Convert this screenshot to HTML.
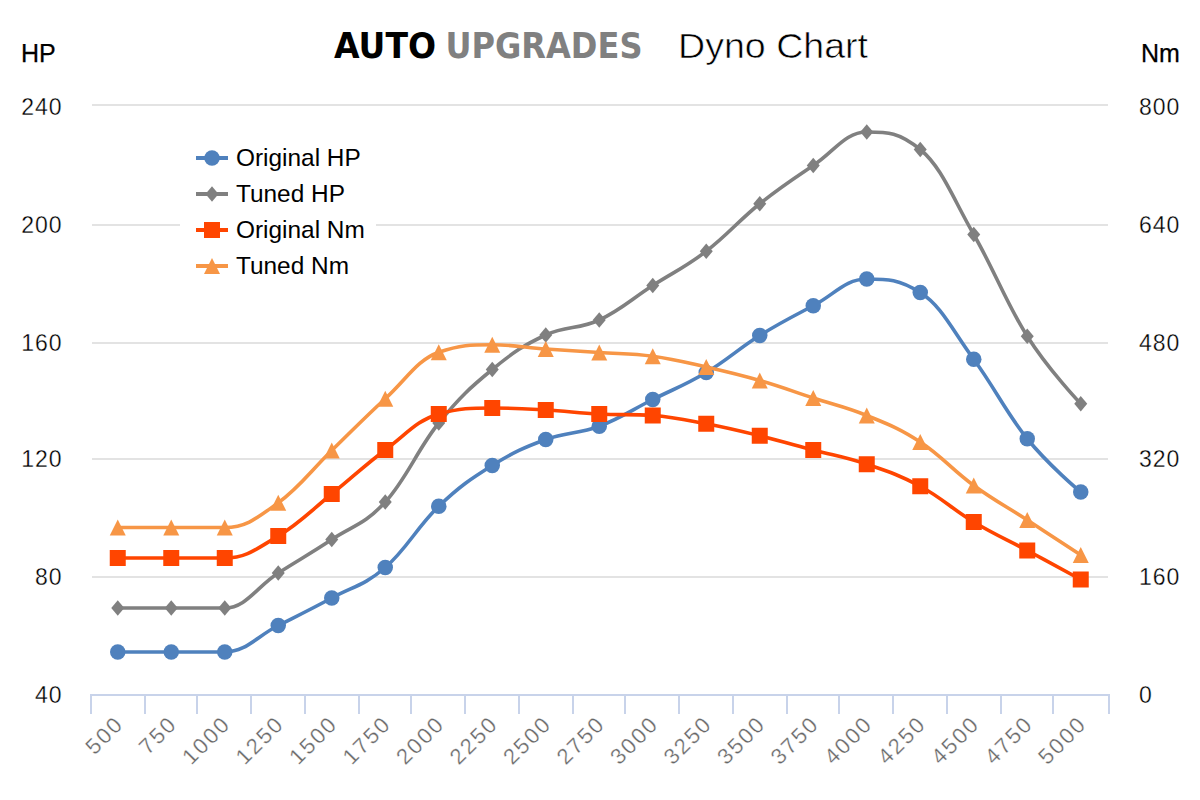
<!DOCTYPE html><html><head><meta charset="utf-8"><title>Dyno Chart</title><style>
html,body{margin:0;padding:0;background:#fff;}body{width:1200px;height:800px;overflow:hidden;}svg{display:block;}
.lab{font-family:"Liberation Sans",Arial,sans-serif;font-size:23px;fill:#000;letter-spacing:1px;stroke:#fff;stroke-width:0.3px;paint-order:fill;}
.xl{font-family:"Liberation Sans",Arial,sans-serif;font-size:22px;fill:#666;letter-spacing:2.2px;stroke:#fff;stroke-width:0.3px;paint-order:fill;}
.ax{font-family:"Liberation Sans",Arial,sans-serif;font-size:25px;fill:#000;stroke:#000;stroke-width:0.25px;}
.leg{font-family:"Liberation Sans",Arial,sans-serif;font-size:24.4px;fill:#000;}
</style></head><body>
<svg width="1200" height="800" viewBox="0 0 1200 800">
<rect width="1200" height="800" fill="#fff"/>
<text x="334" y="57.7" font-family="'DejaVu Sans',sans-serif" font-weight="bold" font-size="35.5" fill="#000" textLength="102" lengthAdjust="spacingAndGlyphs">AUTO</text>
<text x="445.5" y="57.7" font-family="'DejaVu Sans',sans-serif" font-weight="bold" font-size="35.5" fill="#808080" textLength="197" lengthAdjust="spacingAndGlyphs">UPGRADES</text>
<text x="678" y="57.7" font-family="'Liberation Sans',sans-serif" font-size="35" fill="#000" stroke="#fff" stroke-width="0.6" paint-order="fill" textLength="190" lengthAdjust="spacingAndGlyphs">Dyno Chart</text>
<text class="ax" x="21" y="61.5">HP</text>
<text class="ax" x="1141" y="61.5">Nm</text>
<rect x="92" y="104.0" width="1016" height="2" fill="#e3e3e3"/>
<rect x="92" y="224.0" width="1016" height="2" fill="#e3e3e3"/>
<rect x="92" y="342.0" width="1016" height="2" fill="#e3e3e3"/>
<rect x="92" y="458.0" width="1016" height="2" fill="#e3e3e3"/>
<rect x="92" y="576.0" width="1016" height="2" fill="#e3e3e3"/>
<rect x="90" y="694" width="1020" height="2" fill="#c8d3ea"/>
<rect x="90.00" y="694" width="2" height="20" fill="#c8d3ea"/>
<rect x="144.00" y="694" width="2" height="20" fill="#c8d3ea"/>
<rect x="196.00" y="694" width="2" height="20" fill="#c8d3ea"/>
<rect x="250.00" y="694" width="2" height="20" fill="#c8d3ea"/>
<rect x="304.00" y="694" width="2" height="20" fill="#c8d3ea"/>
<rect x="358.00" y="694" width="2" height="20" fill="#c8d3ea"/>
<rect x="410.00" y="694" width="2" height="20" fill="#c8d3ea"/>
<rect x="464.00" y="694" width="2" height="20" fill="#c8d3ea"/>
<rect x="518.00" y="694" width="2" height="20" fill="#c8d3ea"/>
<rect x="572.00" y="694" width="2" height="20" fill="#c8d3ea"/>
<rect x="624.00" y="694" width="2" height="20" fill="#c8d3ea"/>
<rect x="678.00" y="694" width="2" height="20" fill="#c8d3ea"/>
<rect x="732.00" y="694" width="2" height="20" fill="#c8d3ea"/>
<rect x="786.00" y="694" width="2" height="20" fill="#c8d3ea"/>
<rect x="838.00" y="694" width="2" height="20" fill="#c8d3ea"/>
<rect x="892.00" y="694" width="2" height="20" fill="#c8d3ea"/>
<rect x="946.00" y="694" width="2" height="20" fill="#c8d3ea"/>
<rect x="1000.00" y="694" width="2" height="20" fill="#c8d3ea"/>
<rect x="1052.00" y="694" width="2" height="20" fill="#c8d3ea"/>
<rect x="1108.00" y="694" width="2" height="20" fill="#c8d3ea"/>
<text class="lab" x="62.5" y="114.6" text-anchor="end">240</text>
<text class="lab" x="62.5" y="232.6" text-anchor="end">200</text>
<text class="lab" x="62.5" y="350.6" text-anchor="end">160</text>
<text class="lab" x="62.5" y="466.6" text-anchor="end">120</text>
<text class="lab" x="62.5" y="584.6" text-anchor="end">80</text>
<text class="lab" x="62.5" y="702.6" text-anchor="end">40</text>
<text class="lab" x="1139" y="114.6">800</text>
<text class="lab" x="1139" y="232.6">640</text>
<text class="lab" x="1139" y="350.6">480</text>
<text class="lab" x="1139" y="466.6">320</text>
<text class="lab" x="1139" y="584.6">160</text>
<text class="lab" x="1139" y="702.6">0</text>
<text class="xl" transform="translate(125.05,725.00) rotate(-45)" text-anchor="end" x="0" y="0">500</text>
<text class="xl" transform="translate(178.55,725.00) rotate(-45)" text-anchor="end" x="0" y="0">750</text>
<text class="xl" transform="translate(232.05,725.00) rotate(-45)" text-anchor="end" x="0" y="0">1000</text>
<text class="xl" transform="translate(285.55,725.00) rotate(-45)" text-anchor="end" x="0" y="0">1250</text>
<text class="xl" transform="translate(339.05,725.00) rotate(-45)" text-anchor="end" x="0" y="0">1500</text>
<text class="xl" transform="translate(392.55,725.00) rotate(-45)" text-anchor="end" x="0" y="0">1750</text>
<text class="xl" transform="translate(446.05,725.00) rotate(-45)" text-anchor="end" x="0" y="0">2000</text>
<text class="xl" transform="translate(499.55,725.00) rotate(-45)" text-anchor="end" x="0" y="0">2250</text>
<text class="xl" transform="translate(553.05,725.00) rotate(-45)" text-anchor="end" x="0" y="0">2500</text>
<text class="xl" transform="translate(606.55,725.00) rotate(-45)" text-anchor="end" x="0" y="0">2750</text>
<text class="xl" transform="translate(660.05,725.00) rotate(-45)" text-anchor="end" x="0" y="0">3000</text>
<text class="xl" transform="translate(713.55,725.00) rotate(-45)" text-anchor="end" x="0" y="0">3250</text>
<text class="xl" transform="translate(767.05,725.00) rotate(-45)" text-anchor="end" x="0" y="0">3500</text>
<text class="xl" transform="translate(820.55,725.00) rotate(-45)" text-anchor="end" x="0" y="0">3750</text>
<text class="xl" transform="translate(874.05,725.00) rotate(-45)" text-anchor="end" x="0" y="0">4000</text>
<text class="xl" transform="translate(927.55,725.00) rotate(-45)" text-anchor="end" x="0" y="0">4250</text>
<text class="xl" transform="translate(981.05,725.00) rotate(-45)" text-anchor="end" x="0" y="0">4500</text>
<text class="xl" transform="translate(1034.55,725.00) rotate(-45)" text-anchor="end" x="0" y="0">4750</text>
<text class="xl" transform="translate(1088.05,725.00) rotate(-45)" text-anchor="end" x="0" y="0">5000</text>
<path d="M117.75,652.00 C117.75,652.00 149.85,652.00 171.25,652.00 C192.65,652.00 203.35,652.00 224.75,652.00 C246.15,652.00 256.85,636.30 278.25,625.50 C299.65,614.70 310.35,609.60 331.75,598.00 C353.15,586.40 363.85,585.85 385.25,567.50 C406.65,549.15 417.35,526.65 438.75,506.25 C460.15,485.85 470.85,478.85 492.25,465.50 C513.65,452.15 524.35,447.35 545.75,439.50 C567.15,431.65 577.85,434.25 599.25,426.25 C620.65,418.25 631.35,410.25 652.75,399.50 C674.15,388.75 684.85,385.30 706.25,372.50 C727.65,359.70 738.35,348.85 759.75,335.50 C781.15,322.15 791.85,317.05 813.25,305.75 C834.65,294.45 845.35,279.00 866.75,279.00 C888.15,279.00 898.85,279.00 920.25,292.50 C941.65,306.00 952.35,330.00 973.75,359.25 C995.15,388.50 1005.85,412.20 1027.25,438.75 C1048.65,465.30 1080.75,492.00 1080.75,492.00" fill="none" stroke="#4f81bd" stroke-width="3.6" stroke-linejoin="round"/>
<circle cx="117.75" cy="652.00" r="7.75" fill="#4f81bd"/>
<circle cx="171.25" cy="652.00" r="7.75" fill="#4f81bd"/>
<circle cx="224.75" cy="652.00" r="7.75" fill="#4f81bd"/>
<circle cx="278.25" cy="625.50" r="7.75" fill="#4f81bd"/>
<circle cx="331.75" cy="598.00" r="7.75" fill="#4f81bd"/>
<circle cx="385.25" cy="567.50" r="7.75" fill="#4f81bd"/>
<circle cx="438.75" cy="506.25" r="7.75" fill="#4f81bd"/>
<circle cx="492.25" cy="465.50" r="7.75" fill="#4f81bd"/>
<circle cx="545.75" cy="439.50" r="7.75" fill="#4f81bd"/>
<circle cx="599.25" cy="426.25" r="7.75" fill="#4f81bd"/>
<circle cx="652.75" cy="399.50" r="7.75" fill="#4f81bd"/>
<circle cx="706.25" cy="372.50" r="7.75" fill="#4f81bd"/>
<circle cx="759.75" cy="335.50" r="7.75" fill="#4f81bd"/>
<circle cx="813.25" cy="305.75" r="7.75" fill="#4f81bd"/>
<circle cx="866.75" cy="279.00" r="7.75" fill="#4f81bd"/>
<circle cx="920.25" cy="292.50" r="7.75" fill="#4f81bd"/>
<circle cx="973.75" cy="359.25" r="7.75" fill="#4f81bd"/>
<circle cx="1027.25" cy="438.75" r="7.75" fill="#4f81bd"/>
<circle cx="1080.75" cy="492.00" r="7.75" fill="#4f81bd"/>
<path d="M117.75,608.00 C117.75,608.00 149.85,608.00 171.25,608.00 C192.65,608.00 203.35,608.00 224.75,608.00 C246.15,608.00 256.85,586.70 278.25,573.00 C299.65,559.30 310.35,553.70 331.75,539.50 C353.15,525.30 363.85,525.30 385.25,502.00 C406.65,478.70 417.35,449.50 438.75,423.00 C460.15,396.50 470.85,387.10 492.25,369.50 C513.65,351.90 524.35,344.90 545.75,335.00 C567.15,325.10 577.85,329.90 599.25,320.00 C620.65,310.10 631.35,299.25 652.75,285.50 C674.15,271.75 684.85,267.60 706.25,251.25 C727.65,234.90 738.35,220.90 759.75,203.75 C781.15,186.60 791.85,179.85 813.25,165.50 C834.65,151.15 845.35,132.00 866.75,132.00 C888.15,132.00 898.85,132.00 920.25,149.50 C941.65,167.00 952.35,197.15 973.75,234.50 C995.15,271.85 1005.85,302.40 1027.25,336.25 C1048.65,370.10 1080.75,403.75 1080.75,403.75" fill="none" stroke="#808080" stroke-width="3.6" stroke-linejoin="round"/>
<path d="M117.75,600.25L124.25,608.00L117.75,615.75L111.25,608.00Z" fill="#808080"/>
<path d="M171.25,600.25L177.75,608.00L171.25,615.75L164.75,608.00Z" fill="#808080"/>
<path d="M224.75,600.25L231.25,608.00L224.75,615.75L218.25,608.00Z" fill="#808080"/>
<path d="M278.25,565.25L284.75,573.00L278.25,580.75L271.75,573.00Z" fill="#808080"/>
<path d="M331.75,531.75L338.25,539.50L331.75,547.25L325.25,539.50Z" fill="#808080"/>
<path d="M385.25,494.25L391.75,502.00L385.25,509.75L378.75,502.00Z" fill="#808080"/>
<path d="M438.75,415.25L445.25,423.00L438.75,430.75L432.25,423.00Z" fill="#808080"/>
<path d="M492.25,361.75L498.75,369.50L492.25,377.25L485.75,369.50Z" fill="#808080"/>
<path d="M545.75,327.25L552.25,335.00L545.75,342.75L539.25,335.00Z" fill="#808080"/>
<path d="M599.25,312.25L605.75,320.00L599.25,327.75L592.75,320.00Z" fill="#808080"/>
<path d="M652.75,277.75L659.25,285.50L652.75,293.25L646.25,285.50Z" fill="#808080"/>
<path d="M706.25,243.50L712.75,251.25L706.25,259.00L699.75,251.25Z" fill="#808080"/>
<path d="M759.75,196.00L766.25,203.75L759.75,211.50L753.25,203.75Z" fill="#808080"/>
<path d="M813.25,157.75L819.75,165.50L813.25,173.25L806.75,165.50Z" fill="#808080"/>
<path d="M866.75,124.25L873.25,132.00L866.75,139.75L860.25,132.00Z" fill="#808080"/>
<path d="M920.25,141.75L926.75,149.50L920.25,157.25L913.75,149.50Z" fill="#808080"/>
<path d="M973.75,226.75L980.25,234.50L973.75,242.25L967.25,234.50Z" fill="#808080"/>
<path d="M1027.25,328.50L1033.75,336.25L1027.25,344.00L1020.75,336.25Z" fill="#808080"/>
<path d="M1080.75,396.00L1087.25,403.75L1080.75,411.50L1074.25,403.75Z" fill="#808080"/>
<path d="M117.75,558.00 C117.75,558.00 149.85,558.00 171.25,558.00 C192.65,558.00 203.35,558.00 224.75,558.00 C246.15,558.00 256.85,548.80 278.25,536.00 C299.65,523.20 310.35,511.20 331.75,494.00 C353.15,476.80 363.85,466.00 385.25,450.00 C406.65,434.00 417.35,420.00 438.75,414.00 C460.15,408.00 470.85,408.00 492.25,408.00 C513.65,408.00 524.35,408.80 545.75,410.00 C567.15,411.20 577.85,412.90 599.25,414.00 C620.65,415.10 631.35,414.00 652.75,415.50 C674.15,417.00 684.85,419.70 706.25,423.75 C727.65,427.80 738.35,430.50 759.75,435.75 C781.15,441.00 791.85,444.30 813.25,450.00 C834.65,455.70 845.35,457.00 866.75,464.25 C888.15,471.50 898.85,474.70 920.25,486.25 C941.65,497.80 952.35,509.15 973.75,522.00 C995.15,534.85 1005.85,539.00 1027.25,550.50 C1048.65,562.00 1080.75,579.50 1080.75,579.50" fill="none" stroke="#ff4500" stroke-width="3.6" stroke-linejoin="round"/>
<rect x="109.75" y="550.00" width="16" height="16" fill="#ff4500"/>
<rect x="163.25" y="550.00" width="16" height="16" fill="#ff4500"/>
<rect x="216.75" y="550.00" width="16" height="16" fill="#ff4500"/>
<rect x="270.25" y="528.00" width="16" height="16" fill="#ff4500"/>
<rect x="323.75" y="486.00" width="16" height="16" fill="#ff4500"/>
<rect x="377.25" y="442.00" width="16" height="16" fill="#ff4500"/>
<rect x="430.75" y="406.00" width="16" height="16" fill="#ff4500"/>
<rect x="484.25" y="400.00" width="16" height="16" fill="#ff4500"/>
<rect x="537.75" y="402.00" width="16" height="16" fill="#ff4500"/>
<rect x="591.25" y="406.00" width="16" height="16" fill="#ff4500"/>
<rect x="644.75" y="407.50" width="16" height="16" fill="#ff4500"/>
<rect x="698.25" y="415.75" width="16" height="16" fill="#ff4500"/>
<rect x="751.75" y="427.75" width="16" height="16" fill="#ff4500"/>
<rect x="805.25" y="442.00" width="16" height="16" fill="#ff4500"/>
<rect x="858.75" y="456.25" width="16" height="16" fill="#ff4500"/>
<rect x="912.25" y="478.25" width="16" height="16" fill="#ff4500"/>
<rect x="965.75" y="514.00" width="16" height="16" fill="#ff4500"/>
<rect x="1019.25" y="542.50" width="16" height="16" fill="#ff4500"/>
<rect x="1072.75" y="571.50" width="16" height="16" fill="#ff4500"/>
<path d="M117.75,527.50 C117.75,527.50 149.85,527.50 171.25,527.50 C192.65,527.50 203.35,527.50 224.75,527.50 C246.15,527.50 256.85,518.15 278.25,502.75 C299.65,487.35 310.35,471.30 331.75,450.50 C353.15,429.70 363.85,418.40 385.25,398.75 C406.65,379.10 417.35,359.75 438.75,352.25 C460.15,344.75 470.85,344.75 492.25,344.75 C513.65,344.75 524.35,347.45 545.75,349.00 C567.15,350.55 577.85,351.05 599.25,352.50 C620.65,353.95 631.35,353.35 652.75,356.25 C674.15,359.15 684.85,362.15 706.25,367.00 C727.65,371.85 738.35,374.30 759.75,380.50 C781.15,386.70 791.85,391.00 813.25,398.00 C834.65,405.00 845.35,406.70 866.75,415.50 C888.15,424.30 898.85,428.00 920.25,442.00 C941.65,456.00 952.35,469.90 973.75,485.50 C995.15,501.10 1005.85,506.10 1027.25,520.00 C1048.65,533.90 1080.75,555.00 1080.75,555.00" fill="none" stroke="#f79646" stroke-width="3.6" stroke-linejoin="round"/>
<path d="M117.75,519.50L125.75,535.50L109.75,535.50Z" fill="#f79646"/>
<path d="M171.25,519.50L179.25,535.50L163.25,535.50Z" fill="#f79646"/>
<path d="M224.75,519.50L232.75,535.50L216.75,535.50Z" fill="#f79646"/>
<path d="M278.25,494.75L286.25,510.75L270.25,510.75Z" fill="#f79646"/>
<path d="M331.75,442.50L339.75,458.50L323.75,458.50Z" fill="#f79646"/>
<path d="M385.25,390.75L393.25,406.75L377.25,406.75Z" fill="#f79646"/>
<path d="M438.75,344.25L446.75,360.25L430.75,360.25Z" fill="#f79646"/>
<path d="M492.25,336.75L500.25,352.75L484.25,352.75Z" fill="#f79646"/>
<path d="M545.75,341.00L553.75,357.00L537.75,357.00Z" fill="#f79646"/>
<path d="M599.25,344.50L607.25,360.50L591.25,360.50Z" fill="#f79646"/>
<path d="M652.75,348.25L660.75,364.25L644.75,364.25Z" fill="#f79646"/>
<path d="M706.25,359.00L714.25,375.00L698.25,375.00Z" fill="#f79646"/>
<path d="M759.75,372.50L767.75,388.50L751.75,388.50Z" fill="#f79646"/>
<path d="M813.25,390.00L821.25,406.00L805.25,406.00Z" fill="#f79646"/>
<path d="M866.75,407.50L874.75,423.50L858.75,423.50Z" fill="#f79646"/>
<path d="M920.25,434.00L928.25,450.00L912.25,450.00Z" fill="#f79646"/>
<path d="M973.75,477.50L981.75,493.50L965.75,493.50Z" fill="#f79646"/>
<path d="M1027.25,512.00L1035.25,528.00L1019.25,528.00Z" fill="#f79646"/>
<path d="M1080.75,547.00L1088.75,563.00L1072.75,563.00Z" fill="#f79646"/>
<rect x="180" y="138" width="196" height="146" fill="#fff"/>
<rect x="196" y="156.0" width="32" height="4" fill="#4f81bd"/>
<circle cx="212.00" cy="158.00" r="7.75" fill="#4f81bd"/>
<text class="leg" x="236" y="165.7">Original HP</text>
<rect x="196" y="192.0" width="32" height="4" fill="#808080"/>
<path d="M212.00,186.25L218.50,194.00L212.00,201.75L205.50,194.00Z" fill="#808080"/>
<text class="leg" x="236" y="201.7">Tuned HP</text>
<rect x="196" y="228.0" width="32" height="4" fill="#ff4500"/>
<rect x="204.00" y="222.00" width="16" height="16" fill="#ff4500"/>
<text class="leg" x="236" y="237.7">Original Nm</text>
<rect x="196" y="264.0" width="32" height="4" fill="#f79646"/>
<path d="M212.00,258.00L220.00,274.00L204.00,274.00Z" fill="#f79646"/>
<text class="leg" x="236" y="273.7">Tuned Nm</text>
</svg></body></html>
